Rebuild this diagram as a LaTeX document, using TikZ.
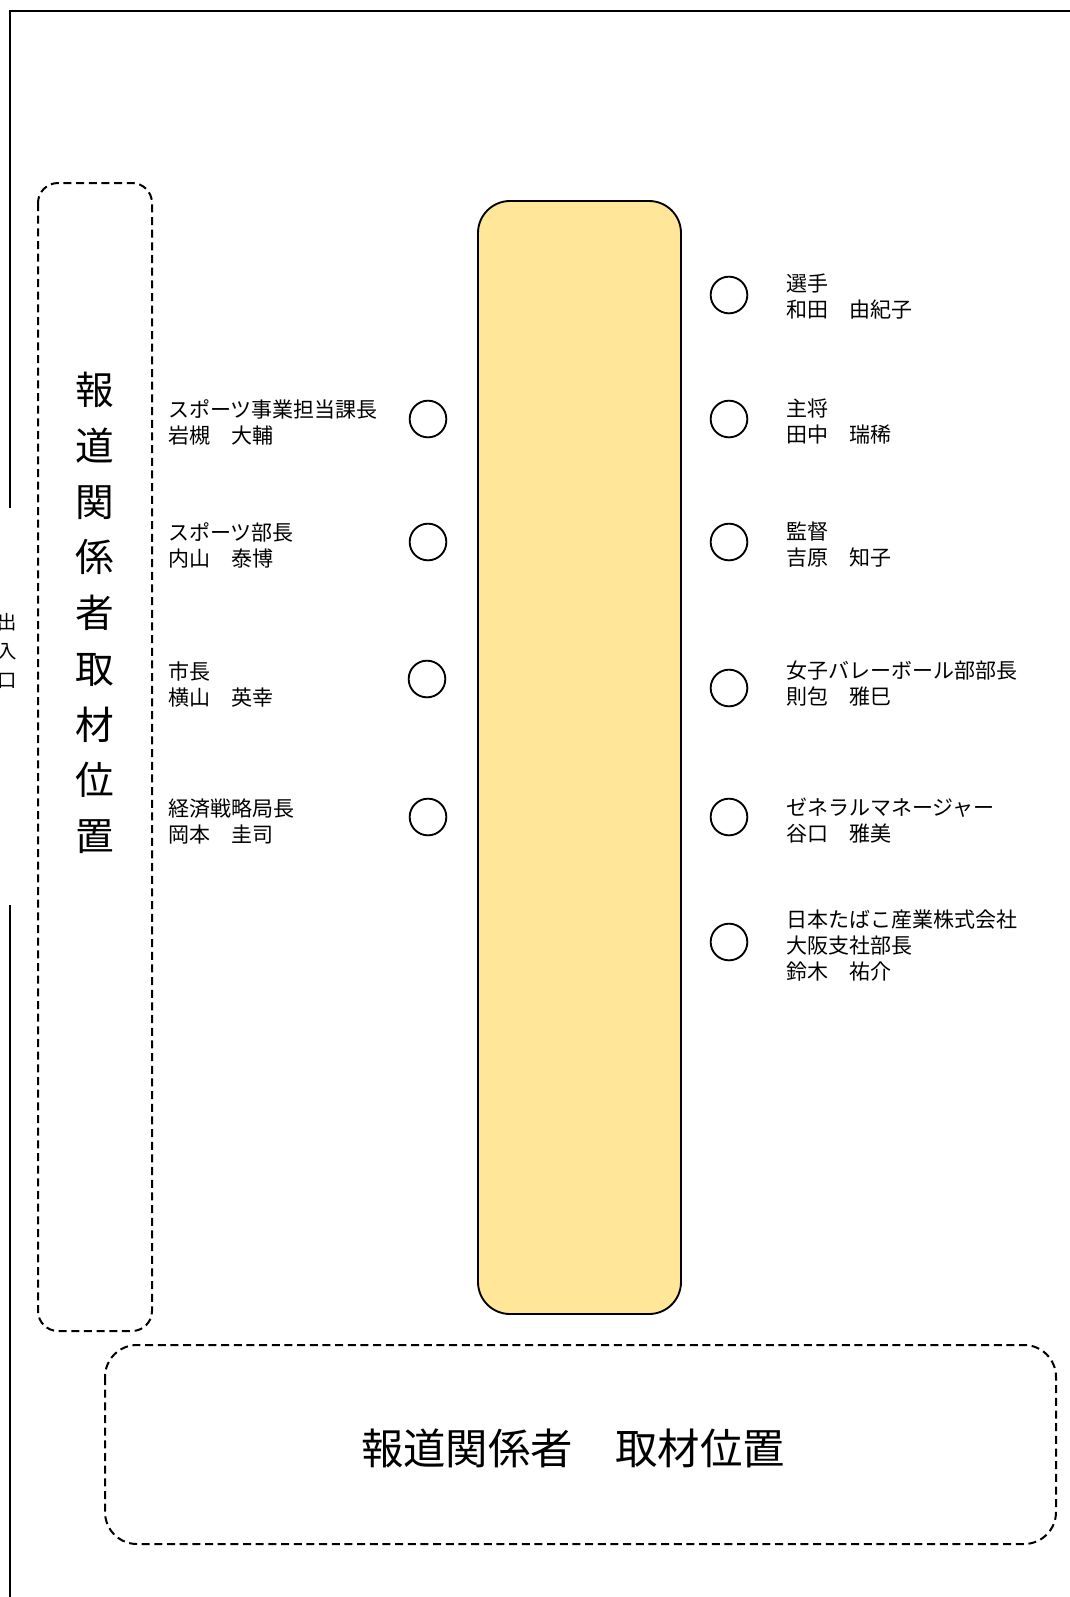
\documentclass[tikz,border=0pt]{standalone}
\usepackage{fontspec}
\newfontfamily\jp{Noto Sans CJK JP}
\definecolor{tablefill}{HTML}{FFE699}
\begin{document}
\begin{tikzpicture}[x=0.75pt,y=-0.75pt,
  frameline/.style={line width=1.5pt},
  dashbox/.style={line width=1.5pt,dash pattern=on 6pt off 3.5pt,rounded corners=#1},
  seat/.style={circle,draw,line width=1.4pt,minimum size=27.5pt,inner sep=0pt},
  label/.style={anchor=west,inner sep=0pt,align=left,font=\jp\fontsize{15.75pt}{19.5pt}\selectfont},
  bigtext/.style={inner sep=0pt,align=center,font=\jp\fontsize{31.8pt}{31.8pt}\selectfont},
  vtext/.style={inner sep=0pt,align=center,font=\jp\fontsize{29pt}{41.8pt}\selectfont},
  doortext/.style={inner sep=0pt,align=center,font=\jp\fontsize{14.5pt}{22pt}\selectfont}]
\useasboundingbox (0,0) rectangle (1070,1597);
% walls
\coordinate (tr) at (1070,11);
\coordinate (tl) at (10,11);
\coordinate (d1) at (10,508);
\coordinate (d2) at (10,905);
\coordinate (bl) at (10,1597);
\draw[frameline] (tr) -- (tl) -- (d1);
\draw[frameline] (d2) -- (bl);
\node[doortext] (door) at (7,651) {出\\入\\口};
% press areas
\draw[dashbox=15pt] (38,183) rectangle (152,1331);
\node[vtext] (pressL) at (95,613) {報\\道\\関\\係\\者\\取\\材\\位\\置};
\draw[dashbox=24pt] (105,1345) rectangle (1056,1544);
\node[bigtext] (pressB) at (573,1448) {報道関係者　取材位置};
% table
\draw[line width=1.4pt,fill=tablefill,rounded corners=24pt] (478,201) rectangle (681,1314);
% left seats
\node[seat] (l1) at (428,419) {};
\node[seat] (l2) at (428,542) {};
\node[seat] (l3) at (427,679) {};
\node[seat] (l4) at (428,817) {};
\node[label] (tl1) at (168,422) {スポーツ事業担当課長\\岩槻　大輔};
\node[label] (tl2) at (168,545) {スポーツ部長\\内山　泰博};
\node[label] (tl3) at (168,684) {市長\\横山　英幸};
\node[label] (tl4) at (168,821) {経済戦略局長\\岡本　圭司};
% right seats
\node[seat] (r1) at (729,295) {};
\node[seat] (r2) at (729,419) {};
\node[seat] (r3) at (729,542) {};
\node[seat] (r4) at (729,688) {};
\node[seat] (r5) at (729,817) {};
\node[seat] (r6) at (729,942) {};
\node[label] (tr1) at (786,297) {選手\\和田　由紀子};
\node[label] (tr2) at (786,422) {主将\\田中　瑞稀};
\node[label] (tr3) at (786,545) {監督\\吉原　知子};
\node[label] (tr4) at (786,684) {女子バレーボール部部長\\則包　雅巳};
\node[label] (tr5) at (786,821) {ゼネラルマネージャー\\谷口　雅美};
\node[label] (tr6) at (786,946) {日本たばこ産業株式会社\\大阪支社部長\\鈴木　祐介};
\end{tikzpicture}
\end{document}
